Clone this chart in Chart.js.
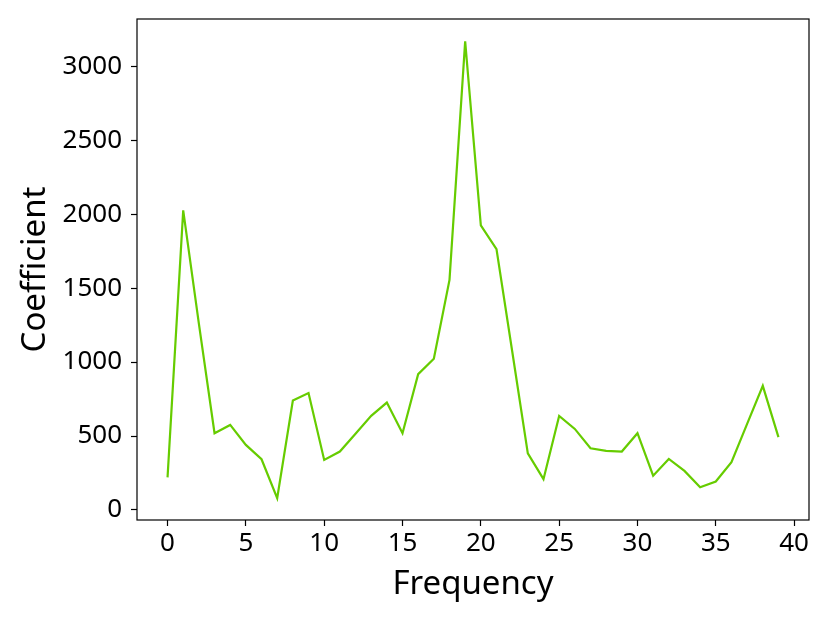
<!DOCTYPE html>
<html>
<head>
<meta charset="utf-8">
<script src="https://cdn.jsdelivr.net/npm/chart.js@4"></script>
<style>
  html, body { margin: 0; padding: 0; background: #fff; }
  #wrap { width: 830px; height: 623px; }
</style>
</head>
<body>
<div id="wrap"><canvas id="coefChart" width="830" height="623"></canvas></div>
<script>
// data
const frequencies = [0,1,2,3,4,5,6,7,8,9,10,11,12,13,14,15,16,17,18,19,20,21,22,23,24,25,26,27,28,29,30,31,32,33,34,35,36,37,38,39];
const coefficients = [220, 2026, 1260, 519, 575, 440, 343, 80, 740, 790, 338, 395, 515, 636, 726, 519, 918, 1022, 1556, 3169,
                      1924, 1764, 1075, 383, 208, 636, 548, 417, 399, 395, 519, 232, 345, 264, 153, 192, 323, 582, 839, 492];
const xTicks = [0, 5, 10, 15, 20, 25, 30, 35, 40];
const yTicks = [0, 500, 1000, 1500, 2000, 2500, 3000];

const FONT = 'Noto Sans';

// box round the plot area
const frameBox = {
    id: 'frameBox',
    afterDraw(chart) {
        const a = chart.chartArea;
        const c = chart.ctx;
        c.save();
        c.strokeStyle = '#000';
        c.lineWidth = 1.2;
        c.strokeRect(a.left, a.top, a.right - a.left, a.bottom - a.top);
        c.restore();
    }
};

const ctx = document.getElementById('coefChart').getContext('2d');
new Chart(ctx, {
    type: 'line',
    data: {
        datasets: [{
            data: frequencies.map((f, i) => ({ x: f, y: coefficients[i] })),
            borderColor: '#66cc00',
            borderWidth: 2.2,
            pointRadius: 0,
            tension: 0,
            fill: false
        }]
    },
    options: {
        responsive: false,
        animation: false,
        layout: { padding: { top: 19, right: 21, left: 0, bottom: 0 } },
        plugins: { legend: { display: false }, tooltip: { enabled: false } },
        scales: {
            x: {
                type: 'linear',
                min: -1.95,
                max: 40.95,
                afterBuildTicks: s => { s.ticks = xTicks.map(v => ({ value: v })); },
                afterFit: s => { s.height = 103; s.paddingLeft = 0; s.paddingRight = 0; },
                grid: { display: true, drawOnChartArea: false, tickLength: 6, tickColor: '#000', tickWidth: 1.2 },
                border: { display: false },
                ticks: { color: '#000', font: { family: FONT, size: 26 }, padding: 2, maxRotation: 0, autoSkip: false,
                         callback: v => String(v) },
                title: { display: true, text: 'Frequency', color: '#000', font: { family: FONT, size: 33 }, padding: { top: 0, bottom: 19 } }
            },
            y: {
                min: -68,
                max: 3320,
                afterBuildTicks: s => { s.ticks = yTicks.map(v => ({ value: v })); },
                afterFit: s => { s.width = 137; s.paddingTop = 0; s.paddingBottom = 0; },
                grid: { display: true, drawOnChartArea: false, tickLength: 6, tickColor: '#000', tickWidth: 1.2 },
                border: { display: false },
                ticks: { color: '#000', font: { family: FONT, size: 26 }, padding: 9, callback: v => String(v) },
                title: { display: true, text: 'Coefficient', color: '#000', font: { family: FONT, size: 33 }, padding: { top: 16, bottom: 0 } }
            }
        }
    },
    plugins: [frameBox]
});
</script>
</body>
</html>
